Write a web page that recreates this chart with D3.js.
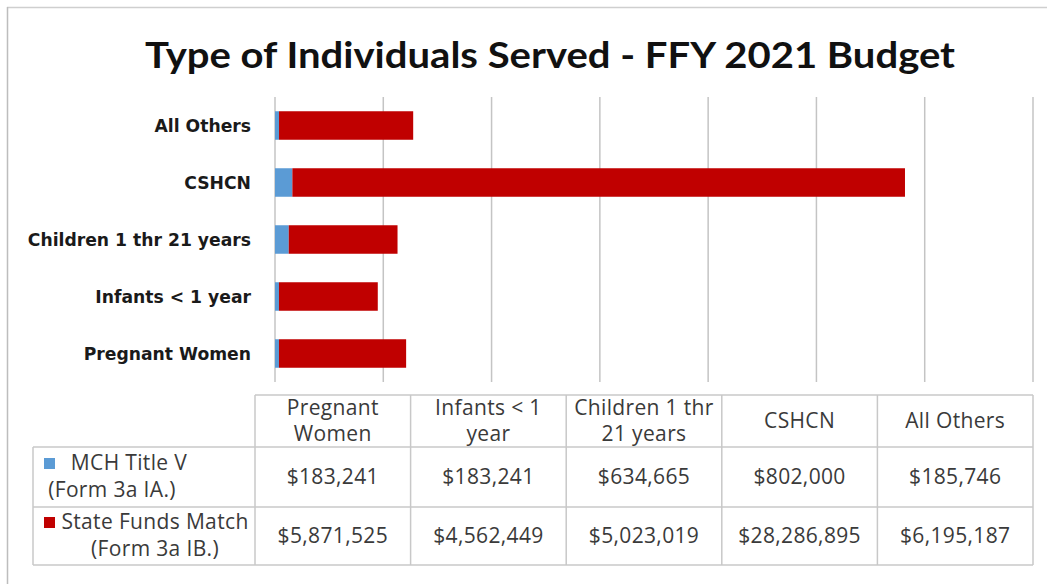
<!DOCTYPE html>
<html>
<head>
<meta charset="utf-8">
<script src="https://cdn.jsdelivr.net/npm/d3@7"></script>
<style>
  html, body { margin: 0; padding: 0; background: #fff; }
  svg { display: block; }
</style>
</head>
<body>
<svg id="chart" width="1047" height="584"></svg>
<script>
// Funding by population group, FFY 2021
const categories = ["Pregnant Women", "Infants < 1 year", "Children 1 thr 21 years", "CSHCN", "All Others"];
const headerLines = [["Pregnant", "Women"], ["Infants < 1", "year"], ["Children 1 thr", "21 years"], ["CSHCN"], ["All Others"]];
const titleV = [183241, 183241, 634665, 802000, 185746];
const stateMatch = [5871525, 4562449, 5023019, 28286895, 6195187];
const seriesNames = [["MCH Title V", "(Form 3a IA.)"], ["State Funds Match", "(Form 3a IB.)"]];
const xTicks = [0, 5e6, 10e6, 15e6, 20e6, 25e6, 30e6, 35e6];

const colors = ["#5b9bd5", "#c00000"];
const svg = d3.select("#chart");

// frame lines
svg.append("line").attr("x1", 7).attr("x2", 1047).attr("y1", 7.5).attr("y2", 7.5)
  .attr("stroke", "#cfcfcf").attr("stroke-width", 1.5);
svg.append("line").attr("x1", 7.5).attr("x2", 7.5).attr("y1", 7).attr("y2", 584)
  .attr("stroke", "#bdbdbd").attr("stroke-width", 1.5);

// title
svg.append("text")
  .attr("x", 550).attr("y", 68)
  .attr("text-anchor", "middle")
  .attr("font-family", "Lato, 'Open Sans', sans-serif")
  .attr("font-weight", "bold")
  .attr("font-size", 36)
  .attr("fill", "#111")
  .attr("textLength", 810).attr("lengthAdjust", "spacingAndGlyphs")
  .text("Type of Individuals Served - FFY 2021 Budget");

// scales
const x = d3.scaleLinear().domain([0, 35e6]).range([275, 1033]);
const y = d3.scaleBand().domain(categories.slice().reverse()).range([97, 382]).paddingInner(0.5).paddingOuter(0.25);

// vertical gridlines
svg.append("g").selectAll("line").data(xTicks).join("line")
  .attr("x1", d => x(d)).attr("x2", d => x(d))
  .attr("y1", 97).attr("y2", 382)
  .attr("stroke", "#c4c4c4").attr("stroke-width", 1.5);

// stacked bars
const rows = categories.map((c, i) => ({ cat: c, a: titleV[i], b: stateMatch[i] }));
const stack = d3.stack().keys(["a", "b"])(rows);
svg.append("g").selectAll("g").data(stack).join("g")
  .attr("fill", (d, i) => colors[i])
  .selectAll("rect").data(d => d).join("rect")
  .attr("x", d => x(d[0]))
  .attr("width", d => x(d[1]) - x(d[0]))
  .attr("y", d => y(d.data.cat))
  .attr("height", y.bandwidth());

// category labels
svg.append("g").selectAll("text").data(categories).join("text")
  .attr("x", 251)
  .attr("y", d => y(d) + y.bandwidth() / 2)
  .attr("dy", "0.36em")
  .attr("text-anchor", "end")
  .attr("font-family", "'DejaVu Sans', Verdana, sans-serif")
  .attr("font-weight", "bold")
  .attr("font-size", 17.2)
  .attr("fill", "#1a1a1a")
  .text(d => d);

// data table
const colX = d3.scaleBand().domain(categories).range([255, 1033]);
const rowTop = [395, 447, 507, 565];
const gridC = "#c8c8c8";
const tbl = svg.append("g");
const tFont = "'Open Sans', sans-serif";
const tColor = "#3a3a3a";
const tSize = 21;
const tSpacing = 0.35;

// horizontal rules
tbl.append("line").attr("x1", 255).attr("x2", 1033).attr("y1", rowTop[0]).attr("y2", rowTop[0]).attr("stroke", gridC).attr("stroke-width", 1.5);
[1, 2, 3].forEach(k => {
  tbl.append("line").attr("x1", 33).attr("x2", 1033).attr("y1", rowTop[k]).attr("y2", rowTop[k]).attr("stroke", gridC).attr("stroke-width", 1.5);
});
// vertical rules
tbl.append("line").attr("x1", 33).attr("x2", 33).attr("y1", rowTop[1]).attr("y2", rowTop[3]).attr("stroke", gridC).attr("stroke-width", 1.5);
categories.forEach(c => {
  tbl.append("line").attr("x1", colX(c)).attr("x2", colX(c)).attr("y1", rowTop[0]).attr("y2", rowTop[3]).attr("stroke", gridC).attr("stroke-width", 1.5);
});
tbl.append("line").attr("x1", 1033).attr("x2", 1033).attr("y1", rowTop[0]).attr("y2", rowTop[3]).attr("stroke", gridC).attr("stroke-width", 1.5);

// header cells
categories.forEach((c, i) => {
  const lines = headerLines[i];
  const cx = colX(c) + colX.bandwidth() / 2;
  const cy = (rowTop[0] + rowTop[1]) / 2;
  lines.forEach((ln, j) => {
    tbl.append("text")
      .attr("x", cx)
      .attr("y", cy + (j - (lines.length - 1) / 2) * 26)
      .attr("dy", "0.35em")
      .attr("text-anchor", "middle")
      .attr("font-family", tFont).attr("font-size", tSize).attr("letter-spacing", tSpacing).attr("fill", tColor)
      .text(ln);
  });
});

// value cells
const fmt = d3.format("$,");
[titleV, stateMatch].forEach((vals, r) => {
  const cy = (rowTop[r + 1] + rowTop[r + 2]) / 2;
  tbl.append("g").selectAll("text").data(vals).join("text")
    .attr("x", (d, i) => colX(categories[i]) + colX.bandwidth() / 2)
    .attr("y", cy)
    .attr("dy", "0.35em")
    .attr("text-anchor", "middle")
    .attr("font-family", tFont).attr("font-size", tSize).attr("letter-spacing", tSpacing).attr("fill", tColor)
    .text(d => fmt(d));
});

// series legend cells
const legendPos = [
  { sq: [44, 458], lines: [[129, 463], [112, 490]] },
  { sq: [44, 517], lines: [[155, 522], [155, 549]] }
];
seriesNames.forEach((names, r) => {
  const p = legendPos[r];
  tbl.append("rect").attr("x", p.sq[0]).attr("y", p.sq[1]).attr("width", 11).attr("height", 11).attr("fill", colors[r]);
  names.forEach((n, j) => {
    tbl.append("text")
      .attr("x", p.lines[j][0]).attr("y", p.lines[j][1])
      .attr("dy", "0.35em")
      .attr("text-anchor", "middle")
      .attr("font-family", tFont).attr("font-size", tSize).attr("letter-spacing", tSpacing).attr("fill", tColor)
      .text(n);
  });
});
</script>
</body>
</html>
